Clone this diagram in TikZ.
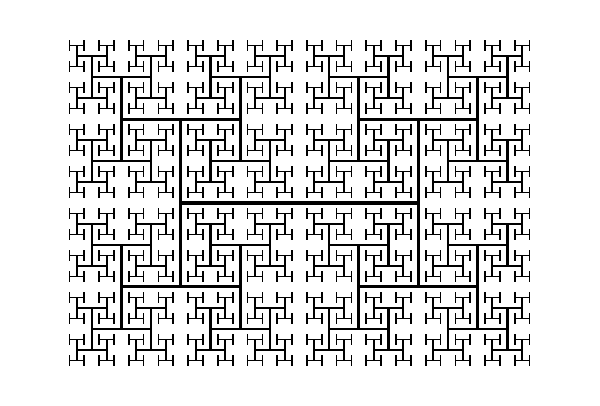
\documentclass[tikz,border=0pt]{standalone}
\newcommand\myhtree[4]{%
 \ifnum#4<10\relax
 \begingroup
  \pgfmathsetmacro\hl{#3/2}%
  \pgfmathsetmacro\nl{#3*0.70710678}%
  \pgfmathsetmacro\lw{3.6*0.92^#4}%
  \pgfmathtruncatemacro\nx{#4+1}%
  \ifodd#4\relax
    \pgfmathsetmacro\ax{#1}\pgfmathsetmacro\ay{#2-\hl}%
    \pgfmathsetmacro\bx{#1}\pgfmathsetmacro\by{#2+\hl}%
  \else
    \pgfmathsetmacro\ax{#1-\hl}\pgfmathsetmacro\ay{#2}%
    \pgfmathsetmacro\bx{#1+\hl}\pgfmathsetmacro\by{#2}%
  \fi
  \draw[hseg, line width=\lw pt] (\ax,\ay) -- (\bx,\by);
  \edef\next{\noexpand\myhtree{\ax}{\ay}{\nl}{\nx}\noexpand\myhtree{\bx}{\by}{\nl}{\nx}}%
  \expandafter\endgroup\next
 \fi}
\begin{document}
\begin{tikzpicture}[x=1pt,y=-1pt,hseg/.style={draw=black}]
\useasboundingbox[fill=white] (0,0) rectangle (600,405);
\myhtree{299.5}{203}{237.5}{0}
\end{tikzpicture}
\end{document}
